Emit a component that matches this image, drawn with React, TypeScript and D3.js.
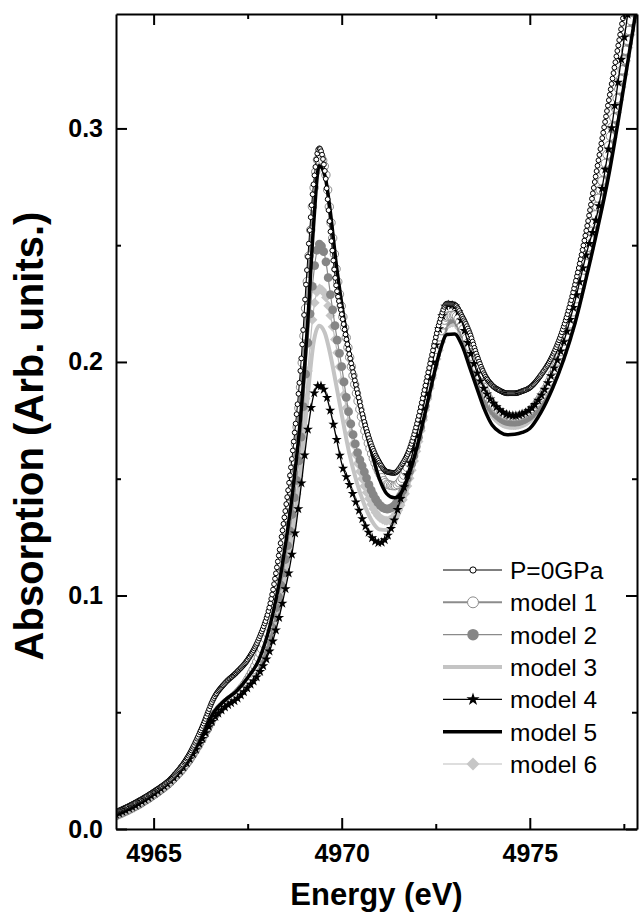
import React, { useEffect, useRef } from 'react';
import * as d3 from 'd3';

// Energy grid (eV) shared by every curve
const energy = [
  4964.0, 4964.5, 4965.0, 4965.5, 4966.0, 4966.3, 4966.6, 4966.9, 4967.2, 4967.5,
  4967.8, 4968.1, 4968.4, 4968.7, 4968.9, 4969.1, 4969.25, 4969.4,
  4969.55, 4969.7, 4969.85, 4970.0, 4970.2, 4970.4, 4970.6, 4970.8, 4971.0,
  4971.2, 4971.4, 4971.6, 4971.8, 4972.0, 4972.2, 4972.4, 4972.6, 4972.8, 4973.0,
  4973.2, 4973.4, 4973.6, 4973.8, 4974.0, 4974.2, 4974.4, 4974.6, 4974.8, 4975.0,
  4975.3, 4975.6, 4975.9, 4976.2, 4976.5, 4976.8, 4977.1, 4977.4, 4977.7, 4978.0,
];

const p0GPa = [
  0.0073, 0.0112, 0.0160, 0.0222, 0.0335, 0.0440, 0.0560, 0.0625, 0.0670, 0.0725,
  0.0815, 0.0965, 0.1250, 0.1620, 0.1960, 0.2450, 0.2760, 0.2915,
  0.2820, 0.2560, 0.2330, 0.2205, 0.2035, 0.1885, 0.1745, 0.1640, 0.1570,
  0.1530, 0.1525, 0.1560, 0.1625, 0.1735, 0.1880, 0.2030, 0.2170, 0.2250, 0.2245,
  0.2195, 0.2125, 0.2025, 0.1945, 0.1900, 0.1878, 0.1866, 0.1866, 0.1875, 0.1890,
  0.1945, 0.2025, 0.2150, 0.2330, 0.2560, 0.2840, 0.3120, 0.3400, 0.3680, 0.3960,
];

const model1 = [
  0.0060, 0.0098, 0.0148, 0.0212, 0.0312, 0.0395, 0.0485, 0.0538, 0.0578, 0.0640,
  0.0740, 0.0900, 0.1170, 0.1540, 0.1880, 0.2380, 0.2720, 0.2885,
  0.2830, 0.2620, 0.2400, 0.2225, 0.2030, 0.1860, 0.1715, 0.1605, 0.1525,
  0.1478, 0.1470, 0.1500, 0.1575, 0.1690, 0.1830, 0.1980, 0.2110, 0.2195, 0.2200,
  0.2150, 0.2065, 0.1970, 0.1880, 0.1820, 0.1785, 0.1768, 0.1765, 0.1772, 0.1790,
  0.1850, 0.1945, 0.2075, 0.2245, 0.2450, 0.2680, 0.2930, 0.3200, 0.3480, 0.3760,
];

const model2 = [
  0.0058, 0.0096, 0.0146, 0.0210, 0.0308, 0.0390, 0.0480, 0.0534, 0.0574, 0.0633,
  0.0705, 0.0840, 0.1060, 0.1370, 0.1640, 0.2080, 0.2370, 0.2505,
  0.2455, 0.2290, 0.2125, 0.1980, 0.1770, 0.1625, 0.1530, 0.1445, 0.1390,
  0.1370, 0.1385, 0.1440, 0.1530, 0.1650, 0.1795, 0.1945, 0.2080, 0.2175, 0.2185,
  0.2135, 0.2045, 0.1945, 0.1855, 0.1795, 0.1762, 0.1745, 0.1742, 0.1750, 0.1768,
  0.1830, 0.1925, 0.2055, 0.2225, 0.2425, 0.2650, 0.2895, 0.3160, 0.3440, 0.3720,
];

const model3 = [
  0.0052, 0.0090, 0.0140, 0.0205, 0.0302, 0.0382, 0.0472, 0.0527, 0.0566, 0.0624,
  0.0685, 0.0800, 0.1000, 0.1280, 0.1510, 0.1860, 0.2080, 0.2155,
  0.2125, 0.2030, 0.1905, 0.1775, 0.1610, 0.1485, 0.1390, 0.1320, 0.1283,
  0.1280, 0.1310, 0.1385, 0.1490, 0.1620, 0.1770, 0.1920, 0.2050, 0.2150, 0.2160,
  0.2110, 0.2020, 0.1920, 0.1830, 0.1768, 0.1735, 0.1720, 0.1718, 0.1725, 0.1745,
  0.1808, 0.1905, 0.2035, 0.2200, 0.2395, 0.2615, 0.2855, 0.3120, 0.3400, 0.3680,
];

const model4 = [
  0.0062, 0.0100, 0.0150, 0.0214, 0.0310, 0.0388, 0.0472, 0.0522, 0.0555, 0.0605,
  0.0665, 0.0770, 0.0950, 0.1200, 0.1440, 0.1710, 0.1855, 0.1900,
  0.1875, 0.1790, 0.1680, 0.1565, 0.1478, 0.1390, 0.1308, 0.1248, 0.1225,
  0.1250, 0.1325, 0.1435, 0.1555, 0.1690, 0.1830, 0.1985, 0.2150, 0.2245, 0.2240,
  0.2170, 0.2055, 0.1955, 0.1880, 0.1830, 0.1795, 0.1775, 0.1770, 0.1778, 0.1795,
  0.1855, 0.1955, 0.2085, 0.2260, 0.2460, 0.2640, 0.2920, 0.3260, 0.3600, 0.3940,
];

const model5 = [
  0.0060, 0.0099, 0.0150, 0.0215, 0.0318, 0.0405, 0.0500, 0.0552, 0.0590, 0.0648,
  0.0725, 0.0875, 0.1110, 0.1450, 0.1750, 0.2180, 0.2580, 0.2840,
  0.2800, 0.2640, 0.2425, 0.2250, 0.2045, 0.1875, 0.1730, 0.1610, 0.1500,
  0.1435, 0.1418, 0.1445, 0.1525, 0.1635, 0.1770, 0.1910, 0.2040, 0.2118, 0.2120,
  0.2070, 0.1978, 0.1885, 0.1795, 0.1730, 0.1700, 0.1688, 0.1690, 0.1698, 0.1715,
  0.1785, 0.1885, 0.2010, 0.2165, 0.2360, 0.2570, 0.2800, 0.3080, 0.3380, 0.3680,
];

const model6 = [
  0.0055, 0.0093, 0.0143, 0.0208, 0.0305, 0.0385, 0.0475, 0.0530, 0.0570, 0.0630,
  0.0695, 0.0820, 0.1030, 0.1320, 0.1570, 0.1960, 0.2220, 0.2315,
  0.2290, 0.2200, 0.2070, 0.1920, 0.1730, 0.1580, 0.1470, 0.1385, 0.1335,
  0.1320, 0.1340, 0.1400, 0.1500, 0.1630, 0.1780, 0.1930, 0.2060, 0.2160, 0.2170,
  0.2120, 0.2030, 0.1930, 0.1840, 0.1780, 0.1748, 0.1733, 0.1730, 0.1738, 0.1757,
  0.1820, 0.1915, 0.2045, 0.2212, 0.2410, 0.2632, 0.2875, 0.3140, 0.3420, 0.3700,
];

const xMajor = [4965, 4970, 4975];
const xMinor = [4967.5, 4972.5, 4977.5];
const yMajor = [0, 0.1, 0.2, 0.3];
const yMinor = [0.05, 0.15, 0.25];

type Marker = 'none' | 'circle' | 'star' | 'diamond';
interface SeriesStyle {
  name: string;
  values: number[];
  stroke: string;
  strokeWidth: number;
  marker: Marker;
  size: number;
  markerFill: string;
  markerStroke: string;
  step: number; // marker spacing in eV
}

const series: SeriesStyle[] = [
  { name: 'P=0GPa', values: p0GPa, stroke: '#000', strokeWidth: 1, marker: 'circle', size: 2.4, markerFill: '#fff', markerStroke: '#000', step: 0.025 },
  { name: 'model 1', values: model1, stroke: '#8c8c8c', strokeWidth: 2, marker: 'circle', size: 4.2, markerFill: '#fff', markerStroke: '#8c8c8c', step: 0.045 },
  { name: 'model 2', values: model2, stroke: '#8a8a8a', strokeWidth: 1.2, marker: 'circle', size: 4.4, markerFill: '#868686', markerStroke: 'none', step: 0.06 },
  { name: 'model 3', values: model3, stroke: '#c4c4c4', strokeWidth: 4, marker: 'none', size: 0, markerFill: 'none', markerStroke: 'none', step: 0 },
  { name: 'model 4', values: model4, stroke: '#000', strokeWidth: 1.3, marker: 'star', size: 32, markerFill: '#000', markerStroke: 'none', step: 0.085 },
  { name: 'model 5', values: model5, stroke: '#000', strokeWidth: 3.5, marker: 'none', size: 0, markerFill: 'none', markerStroke: 'none', step: 0 },
  { name: 'model 6', values: model6, stroke: '#bdbdbd', strokeWidth: 1.2, marker: 'diamond', size: 50, markerFill: '#c6c6c6', markerStroke: 'none', step: 0.06 },
];

const drawOrder = ['model 3', 'model 6', 'model 2', 'model 1', 'model 4', 'model 5', 'P=0GPa'];

const font = "'Liberation Sans', Arial, Helvetica, sans-serif";

export default function App() {
  const svgRef = useRef<SVGSVGElement>(null);

  useEffect(() => {
    if (!svgRef.current) return;
    const svg = d3.select(svgRef.current);
    svg.selectAll('*').remove();

    const x = d3.scaleLinear().domain([4964, 4977.85]).range([116, 637]);
    const y = d3.scaleLinear().domain([0, 0.349]).range([829, 14]);
    const [left, right] = x.range();
    const [bottom, top] = y.range();

    svg.append('defs').append('clipPath').attr('id', 'plot-clip')
      .append('rect')
      .attr('x', left).attr('y', top)
      .attr('width', right - left).attr('height', bottom - top);

    const line = d3.line<number>()
      .x((_, i) => x(energy[i]))
      .y((d) => y(d))
      .curve(d3.curveMonotoneX);

    // markers follow the drawn curve at an even energy step, like the measured points
    const placeAlong = (node: SVGPathElement, stepPx: number) => {
      const total = node.getTotalLength();
      const out: [number, number][] = [];
      let next = node.getPointAtLength(0).x;
      for (let l = 0; l <= total; l += 0.5) {
        const p = node.getPointAtLength(l);
        if (p.x >= next) {
          out.push([p.x, p.y]);
          next += stepPx;
        }
      }
      return out;
    };

    const drawMarkers = (g: any, pts: [number, number][], s: SeriesStyle, k: number) => {
      if (s.marker === 'circle') {
        g.selectAll(null).data(pts).join('circle')
          .attr('cx', (d: any) => d[0]).attr('cy', (d: any) => d[1])
          .attr('r', s.size * k)
          .attr('fill', s.markerFill)
          .attr('stroke', s.markerStroke)
          .attr('stroke-width', 1);
      } else if (s.marker !== 'none') {
        const sym = d3.symbol()
          .type(s.marker === 'star' ? d3.symbolStar : d3.symbolSquare)
          .size(s.size * k * k);
        g.selectAll(null).data(pts).join('path')
          .attr('d', sym())
          .attr('transform', (d: any) => `translate(${d[0]},${d[1]})${s.marker === 'diamond' ? ' rotate(45)' : ''}`)
          .attr('fill', s.markerFill);
      }
    };

    const plot = svg.append('g').attr('clip-path', 'url(#plot-clip)');
    const pxPerEv = x(1) - x(0);
    drawOrder.forEach((name) => {
      const s = series.find((d) => d.name === name)!;
      const g = plot.append('g');
      const path = g.append('path')
        .attr('d', line(s.values))
        .attr('fill', 'none')
        .attr('stroke', s.stroke)
        .attr('stroke-width', s.strokeWidth)
        .attr('stroke-linejoin', 'round');
      if (s.marker === 'none') return;
      drawMarkers(g, placeAlong(path.node()!, s.step * pxPerEv), s, 1);
    });

    // frame with inward ticks
    const styleAxis = (sel: any) => {
      sel.select('.domain').attr('stroke', '#000').attr('stroke-width', 2);
      sel.selectAll('.tick line').attr('stroke', '#000').attr('stroke-width', 2);
      sel.selectAll('.tick text')
        .attr('font-family', font).attr('font-size', 25)
        .attr('font-weight', 'bold').attr('fill', '#000');
    };
    const noLabel = () => '';

    const axes = svg.append('g');
    axes.append('g').attr('transform', `translate(0,${bottom})`)
      .call(d3.axisBottom(x).tickValues(xMajor).tickSize(-11).tickSizeOuter(0).tickPadding(15).tickFormat(d3.format('d') as any))
      .call(styleAxis);
    axes.append('g').attr('transform', `translate(0,${top})`)
      .call(d3.axisTop(x).tickValues(xMajor).tickSize(-11).tickSizeOuter(0).tickFormat(noLabel))
      .call(styleAxis);
    axes.append('g').attr('transform', `translate(${left},0)`)
      .call(d3.axisLeft(y).tickValues(yMajor).tickSize(-11).tickSizeOuter(0).tickPadding(13).tickFormat(d3.format('.1f') as any))
      .call(styleAxis);
    axes.append('g').attr('transform', `translate(${right},0)`)
      .call(d3.axisRight(y).tickValues(yMajor).tickSize(-11).tickSizeOuter(0).tickFormat(noLabel))
      .call(styleAxis);

    const minor = [
      [d3.axisBottom(x).tickValues(xMinor), `translate(0,${bottom})`],
      [d3.axisTop(x).tickValues(xMinor), `translate(0,${top})`],
      [d3.axisLeft(y).tickValues(yMinor), `translate(${left},0)`],
      [d3.axisRight(y).tickValues(yMinor), `translate(${right},0)`],
    ] as const;
    minor.forEach(([ax, tr]) => {
      axes.append('g').attr('transform', tr)
        .call((ax as any).tickSize(-5).tickSizeOuter(0).tickFormat(noLabel))
        .call((sel: any) => {
          sel.select('.domain').remove();
          sel.selectAll('.tick line').attr('stroke', '#000').attr('stroke-width', 2);
        });
    });

    // axis titles
    svg.append('text')
      .attr('x', (left + right) / 2).attr('y', 905)
      .attr('text-anchor', 'middle')
      .attr('font-family', font).attr('font-size', 31).attr('font-weight', 'bold')
      .text('Energy (eV)');
    svg.append('text')
      .attr('transform', `translate(43,${436}) rotate(-90)`)
      .attr('text-anchor', 'middle')
      .attr('font-family', font).attr('font-size', 40).attr('font-weight', 'bold')
      .text('Absorption (Arb. units.)');

    // legend
    const rowY = d3.scalePoint<string>().domain(series.map((s) => s.name)).range([570, 764]);
    const leg = svg.append('g');
    series.forEach((s) => {
      const cy = rowY(s.name)!;
      leg.append('line')
        .attr('x1', 443).attr('x2', 502).attr('y1', cy).attr('y2', cy)
        .attr('stroke', s.stroke).attr('stroke-width', s.strokeWidth);
      drawMarkers(leg, [[473, cy]], s, 1.3);
      leg.append('text')
        .attr('x', 510).attr('y', cy + 9)
        .attr('font-family', font).attr('font-size', 24.5)
        .attr('fill', '#000')
        .text(s.name);
    });
  }, []);

  return (
    <svg
      ref={svgRef}
      width={640}
      height={924}
      style={{ position: 'absolute', left: 0, top: 0, background: '#fff', display: 'block' }}
    />
  );
}
